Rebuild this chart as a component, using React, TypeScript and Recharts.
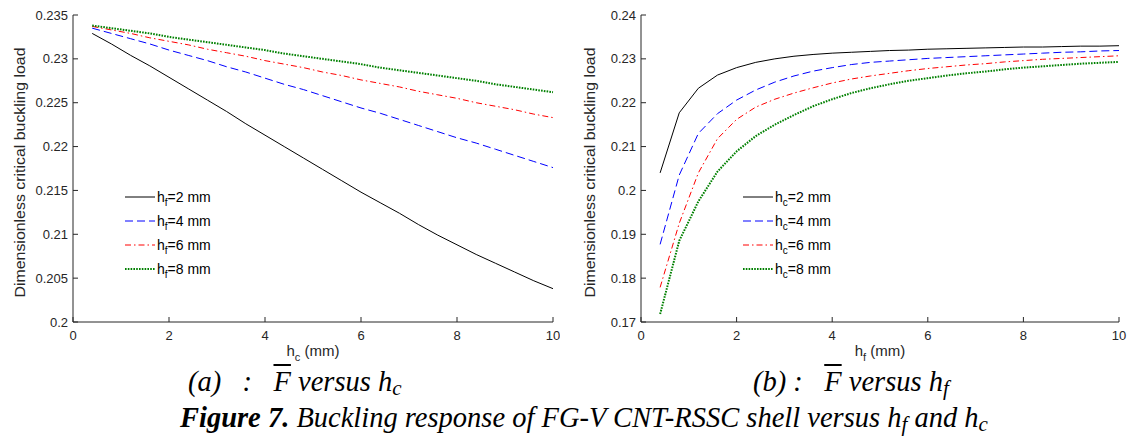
import React from "react";
import { Legend, Line, LineChart, XAxis, YAxis } from "recharts";

// sample positions (mm) shared by both panels
const xs = [0.4, 0.8, 1.2, 1.6, 2, 2.4, 2.8, 3.2, 3.6, 4, 4.4, 4.8, 5.2, 5.6, 6, 6.4, 6.8, 7.2, 7.6, 8, 8.4, 8.8, 9.2, 9.6, 10];

// panel (a): load vs h_c for several h_f
const aHf2 = [0.2329, 0.2317, 0.2304, 0.2292, 0.2279, 0.2266, 0.2253, 0.224, 0.2226, 0.2213, 0.22, 0.2187, 0.2174, 0.2161, 0.2148, 0.2136, 0.2124, 0.2111, 0.2099, 0.2088, 0.2077, 0.2067, 0.2057, 0.2047, 0.2038];
const aHf4 = [0.2335, 0.2329, 0.2323, 0.2317, 0.231, 0.2304, 0.2298, 0.2291, 0.2285, 0.2278, 0.2271, 0.2265, 0.2258, 0.2251, 0.2244, 0.2238, 0.2231, 0.2224, 0.2217, 0.221, 0.2204, 0.2197, 0.219, 0.2183, 0.2176];
const aHf6 = [0.2337, 0.2333, 0.2329, 0.2324, 0.232, 0.2316, 0.2311, 0.2307, 0.2303, 0.2298, 0.2294, 0.229, 0.2285, 0.2281, 0.2276, 0.2272, 0.2268, 0.2263, 0.2259, 0.2255, 0.225, 0.2246, 0.2242, 0.2237, 0.2233];
const aHf8 = [0.2338, 0.2335, 0.2332, 0.2329, 0.2325, 0.2322, 0.2319, 0.2316, 0.2313, 0.231, 0.2306, 0.2303, 0.23, 0.2297, 0.2294, 0.229, 0.2287, 0.2284, 0.2281, 0.2278, 0.2275, 0.2271, 0.2268, 0.2265, 0.2262];

// panel (b): load vs h_f for several h_c
const bHc2 = [0.204, 0.2177, 0.2233, 0.2263, 0.228, 0.2292, 0.23, 0.2306, 0.231, 0.2313, 0.2315, 0.2317, 0.2319, 0.232, 0.2322, 0.2323, 0.2324, 0.2325, 0.2326, 0.2327, 0.2327, 0.2328, 0.2329, 0.2329, 0.233];
const bHc4 = [0.1877, 0.2035, 0.213, 0.2175, 0.2206, 0.2229, 0.2247, 0.2261, 0.2272, 0.228, 0.2287, 0.2292, 0.2295, 0.2298, 0.2301, 0.2303, 0.2305, 0.2307, 0.2309, 0.2311, 0.2313, 0.2315, 0.2316, 0.2318, 0.2319];
const bHc6 = [0.1779, 0.1925, 0.204, 0.2118, 0.2162, 0.219, 0.2208, 0.2222, 0.2234, 0.2245, 0.2254, 0.2261, 0.2267, 0.2273, 0.2278, 0.2282, 0.2286, 0.2289, 0.2293, 0.2296, 0.2299, 0.2301, 0.2303, 0.2305, 0.2307];
const bHc8 = [0.1718, 0.1885, 0.1975, 0.2043, 0.2089, 0.2124, 0.215, 0.2172, 0.2192, 0.2208, 0.2222, 0.2233, 0.2242, 0.225, 0.2256, 0.2262, 0.2267, 0.2271, 0.2276, 0.228, 0.2283, 0.2286, 0.2289, 0.2291, 0.2293];

const xTicks = [0, 2, 4, 6, 8, 10];
const aYTicks = [0.2, 0.205, 0.21, 0.215, 0.22, 0.225, 0.23, 0.235];
const bYTicks = [0.17, 0.18, 0.19, 0.2, 0.21, 0.22, 0.23, 0.24];
const legendValues = ["2", "4", "6", "8"];

const aData = xs.map((x, i) => ({ x, s2: aHf2[i], s4: aHf4[i], s6: aHf6[i], s8: aHf8[i] }));
const bData = xs.map((x, i) => ({ x, s2: bHc2[i], s4: bHc4[i], s6: bHc6[i], s8: bHc8[i] }));

const FONT = "'Liberation Sans', Arial, sans-serif";
const SERIF = "'Liberation Serif', 'Times New Roman', serif";
const INK = "#262626";

const styles = [
  { key: "s2", stroke: "#000000", dash: undefined, width: 1 },
  { key: "s4", stroke: "#0000ff", dash: "8 4", width: 1 },
  { key: "s6", stroke: "#ff0000", dash: "6 3 1.5 3", width: 1 },
  { key: "s8", stroke: "#008000", dash: "1.6 1.2", width: 2 },
];

const tickStyle = { fill: INK, fontSize: 13, fontFamily: FONT };

function fmt(v: number) {
  return String(Number(v.toFixed(3)));
}

function legendBox(sub: string) {
  return () => (
    <svg width={100} height={100} style={{ display: "block" }}>
      {styles.map((s, i) => (
        <g key={s.key}>
          <line x1={0} x2={30} y1={12 + i * 24} y2={12 + i * 24} stroke={s.stroke} strokeWidth={s.width} strokeDasharray={s.dash} />
          <text x={32} y={17 + i * 24} fill="#000" fontSize={14} fontFamily={FONT}>
            h<tspan dy={4} fontSize={10}>{sub}</tspan>
            <tspan dy={-4}>={legendValues[i]} mm</tspan>
          </text>
        </g>
      ))}
    </svg>
  );
}

function xLabel(sub: string) {
  return (props: any) => {
    const vb = props.viewBox || { x: 0, y: 0, width: 0 };
    return (
      <text x={vb.x + vb.width / 2} y={vb.y + 34} textAnchor="middle" fill={INK} fontSize={15} fontFamily={FONT}>
        h<tspan dy={5} fontSize={11}>{sub}</tspan>
        <tspan dy={-5}> (mm)</tspan>
      </text>
    );
  };
}

function yLabel(offset: number) {
  return (props: any) => {
    const vb = props.viewBox || { x: 0, y: 0, height: 0 };
    const cx = vb.x + offset;
    const cy = vb.y + vb.height / 2 + 4;
    return (
      <text
        x={cx}
        y={cy}
        transform={`rotate(-90, ${cx}, ${cy})`}
        textAnchor="middle"
        dominantBaseline="central"
        fill={INK}
        fontSize={14.5}
        fontFamily={FONT}
        textLength={250}
        lengthAdjust="spacingAndGlyphs"
      >
        Dimensionless critical buckling load
      </text>
    );
  };
}

function Panel({ data, yTicks, yWidth, width, rightPad, legendLeft, sub, labelOffset }: any) {
  return (
    <LineChart width={width} height={380} data={data} margin={{ top: 15, right: rightPad, left: 0, bottom: 28 }}>
      <XAxis
        dataKey="x"
        type="number"
        domain={[0, 10]}
        ticks={xTicks}
        tick={tickStyle}
        tickSize={-5}
        tickMargin={14}
        stroke={INK}
        interval={0}
        label={{ content: xLabel(sub === "f" ? "c" : "f") }}
      />
      <YAxis
        type="number"
        width={yWidth}
        domain={[yTicks[0], yTicks[yTicks.length - 1]]}
        ticks={yTicks}
        tick={tickStyle}
        tickFormatter={fmt}
        tickSize={-5}
        tickMargin={10}
        stroke={INK}
        interval={0}
        allowDataOverflow
        label={{ content: yLabel(labelOffset) }}
      />
      {styles.map((s) => (
        <Line
          key={s.key}
          dataKey={s.key}
          type="linear"
          stroke={s.stroke}
          strokeWidth={s.width}
          strokeDasharray={s.dash}
          dot={false}
          isAnimationActive={false}
        />
      ))}
      <Legend
        content={legendBox(sub)}
        layout="vertical"
        align="center"
        verticalAlign="middle"
        wrapperStyle={{ left: legendLeft, top: 185, width: 100, height: 100 }}
      />
    </LineChart>
  );
}

const captionStyle: React.CSSProperties = {
  position: "absolute",
  fontFamily: SERIF,
  fontStyle: "italic",
  fontSize: 28.5,
  lineHeight: "28.5px",
  color: "#000",
  whiteSpace: "nowrap",
};
const subStyle: React.CSSProperties = { fontSize: 21, verticalAlign: "-0.2em", lineHeight: 0 };
const barF: React.CSSProperties = { textDecoration: "overline", textDecorationThickness: 1.5 };

export default function App() {
  return (
    <div style={{ position: "relative", width: 1133, height: 443, background: "#fff", overflow: "hidden" }}>
      <style>{"body{margin:0}"}</style>
      <div style={{ position: "absolute", left: 0, top: 0 }}>
        <Panel data={aData} yTicks={aYTicks} yWidth={73} width={560} rightPad={7} legendLeft={125} sub="f" labelOffset={20} />
      </div>
      <div style={{ position: "absolute", left: 560, top: 0 }}>
        <Panel data={bData} yTicks={bYTicks} yWidth={81} width={573} rightPad={14} legendLeft={183} sub="c" labelOffset={30} />
      </div>
      <div style={{ ...captionStyle, left: 188, top: 368 }}>
        (a)&nbsp;&nbsp;&nbsp;:&nbsp;&nbsp;&nbsp;<span style={barF}>F</span> versus h<span style={subStyle}>c</span>
      </div>
      <div style={{ ...captionStyle, left: 753, top: 368 }}>
        (b) :&nbsp;&nbsp;&nbsp;<span style={barF}>F</span> versus h<span style={subStyle}>f</span>
      </div>
      <div style={{ ...captionStyle, left: 180, top: 404 }}>
        <b>Figure 7.</b> Buckling response of FG-V CNT-RSSC shell versus h<span style={subStyle}>f</span> and h<span style={subStyle}>c</span>
      </div>
    </div>
  );
}
